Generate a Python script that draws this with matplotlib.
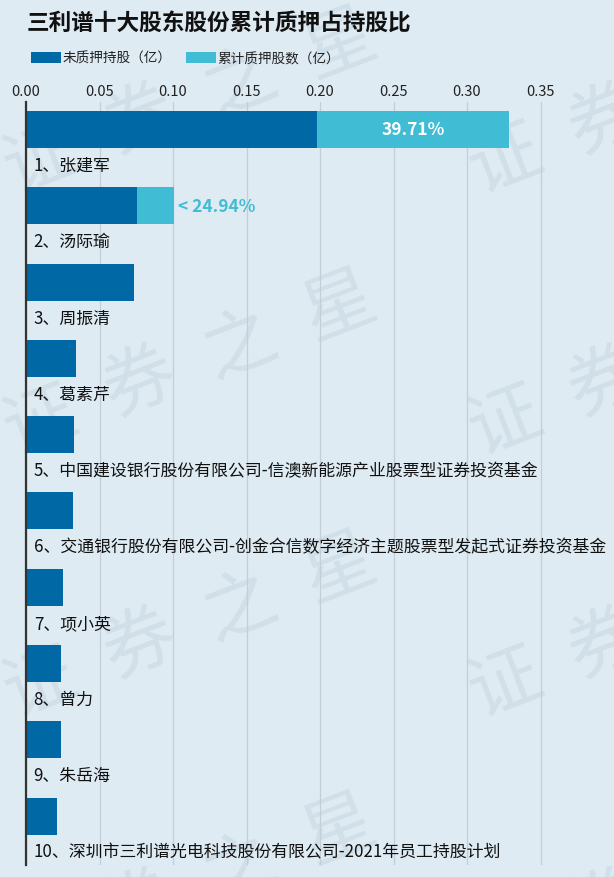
import numpy as np
import matplotlib.pyplot as plt

plt.rcParams['font.family'] = ['Noto Sans CJK SC', 'DejaVu Sans']

names = ['1、张建军', '2、汤际瑜', '3、周振清', '4、葛素芹',
         '5、中国建设银行股份有限公司-信澳新能源产业股票型证券投资基金',
         '6、交通银行股份有限公司-创金合信数字经济主题股票型发起式证券投资基金',
         '7、项小英', '8、曾力', '9、朱岳海',
         '10、深圳市三利谱光电科技股份有限公司-2021年员工持股计划']
unpledged = [0.1981, 0.0754, 0.0735, 0.0340, 0.0324, 0.0320, 0.0250, 0.0238, 0.0238, 0.0209]
pledged = [0.1305, 0.0251, 0, 0, 0, 0, 0, 0, 0, 0]
pledge_pct = [39.71, 24.94, None, None, None, None, None, None, None, None]
xticks = [0.00, 0.05, 0.10, 0.15, 0.20, 0.25, 0.30, 0.35]

bg = '#deebf3'
dark = '#0068a5'
light = '#40bcd5'
W, H = 614, 878

fig = plt.figure(figsize=(W / 100, H / 100), dpi=100, facecolor=bg)

# watermark, drawn behind everything
wm_col = '#d1dfe8'
ang = np.deg2rad(21)
for x0 in [40, 505]:
    for y0 in [160, 422, 684, 946]:
        for i, ch in enumerate('证券之星'):
            px = x0 + i * 107 * np.cos(ang)
            py = y0 - i * 107 * np.sin(ang)
            if px > W + 30 or py > H + 30:
                continue
            fig.text(px / W, 1 - py / H, ch, fontsize=52, color=wm_col,
                     fontweight='light', rotation=21, ha='center', va='center',
                     zorder=-10)

ax = fig.add_axes([26 / W, 1 - 866 / H, 1 - 26 / W, (866 - 103) / H])
ax.set_facecolor('none')

y = np.arange(len(names)) + 0.36
b1 = ax.barh(y, unpledged, height=0.485, color=dark, label='未质押持股（亿）', zorder=3)
b2 = ax.barh(y, pledged, left=unpledged, height=0.485, color=light,
             label='累计质押股数（亿）', zorder=3)

for i, name in enumerate(names):
    ax.text(0.0052, i + 0.826, name, fontsize=12.2, color='#111111', va='center', ha='left')

for i, p in enumerate(pledge_pct):
    if p is None:
        continue
    total = unpledged[i] + pledged[i]
    if pledged[i] / 0.40 > 0.25:
        ax.text(unpledged[i] + pledged[i] / 2, y[i], f'{p:.2f}%', color='white',
                fontsize=12.5, fontweight='bold', ha='center', va='center', zorder=4)
    else:
        ax.text(total + 0.003, y[i], f'< {p:.2f}%', color=light,
                fontsize=12.5, fontweight='bold', ha='left', va='center', zorder=4)

ax.set_xlim(0, 0.40)
ax.set_ylim(len(names), 0)
ax.set_yticks([])
ax.xaxis.tick_top()
ax.set_xticks(xticks)
ax.set_xticklabels([f'{t:.2f}' for t in xticks], fontsize=10.5, color='#222222')
ax.tick_params(axis='x', length=0, pad=3)
ax.grid(axis='x', color='#c3ced8', linewidth=0.9, zorder=1)
for s in ['top', 'right', 'bottom']:
    ax.spines[s].set_visible(False)
ax.spines['left'].set_color('#333333')
ax.spines['left'].set_linewidth(1.6)
ax.spines['left'].set_zorder(5)

fig.text(27 / W, 1 - 23 / H, '三利谱十大股东股份累计质押占持股比', fontsize=16.3,
         fontweight='bold', color='#111111', ha='left', va='center')

fig.legend(handles=[b1, b2], loc='upper left', bbox_to_anchor=(31 / W, 1 - 52 / H),
           ncol=2, frameon=False, fontsize=9.8, borderpad=0, borderaxespad=0,
           handlelength=2.2, handleheight=0.9, handletextpad=0.15,
           columnspacing=1.0, labelcolor='#222222')

fig.savefig('out.png', dpi=100, facecolor=bg)
